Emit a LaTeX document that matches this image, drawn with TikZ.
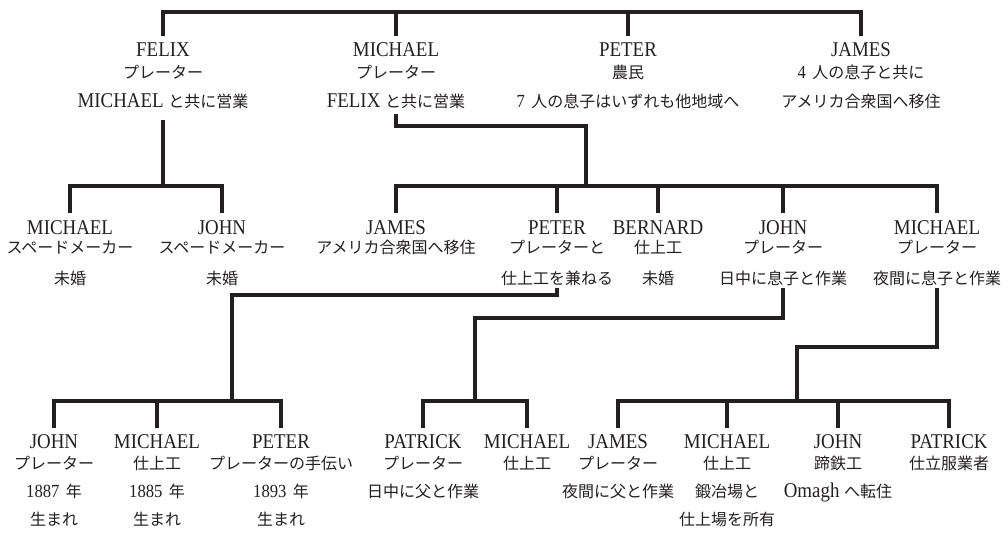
\documentclass[tikz,border=0pt]{standalone}
\usepackage{fontspec}
\setmainfont{Liberation Serif}[FakeStretch=0.9]
\newfontfamily\jpf{Noto Sans CJK JP}
\newcommand\jp[1]{{\jpf\fontsize{16}{16}\selectfont #1}}
\newcommand\dg[1]{{\fontsize{18.5}{18.5}\selectfont #1}\hspace{1.5pt}}
\definecolor{ink}{HTML}{231F20}
\tikzset{
  nm/.style={anchor=base, inner sep=0pt, text=ink, font=\fontsize{21}{21}\selectfont},
  tx/.style={anchor=base, inner sep=0pt, text=ink, font=\fontsize{21}{21}\selectfont},
  ln/.style={line width=3.1pt, draw=ink, line join=miter},
}
\begin{document}
\begin{tikzpicture}[x=1pt,y=-1pt]
\useasboundingbox (0,0) rectangle (1008,537);
% ---------- row 1 ----------
\node[nm] (a1) at (163,57) {FELIX};
\node[tx] (a1b) at (163,79) {\jp{プレーター}};
\node[tx] (a1c) at (163,108) {MICHAEL \jp{と共に営業}};
\node[nm] (a2) at (396,57) {MICHAEL};
\node[tx] (a2b) at (396,79) {\jp{プレーター}};
\node[tx] (a2c) at (396,108) {FELIX \jp{と共に営業}};
\node[nm] (a3) at (628,57) {PETER};
\node[tx] (a3b) at (628,79) {\jp{農民}};
\node[tx] (a3c) at (628,108) {\dg{7} \jp{人の息子はいずれも他地域へ}};
\node[nm] (a4) at (861,57) {JAMES};
\node[tx] (a4b) at (861,79) {\dg{4} \jp{人の息子と共に}};
\node[tx] (a4c) at (861,108) {\jp{アメリカ合衆国へ移住}};
% ---------- row 2 ----------
\node[nm] (b1) at (70,234) {MICHAEL};
\node[tx] (b1b) at (70,253) {\jp{スペードメーカー}};
\node[tx] (b1c) at (70,284) {\jp{未婚}};
\node[nm] (b2) at (222,234) {JOHN};
\node[tx] (b2b) at (222,253) {\jp{スペードメーカー}};
\node[tx] (b2c) at (222,284) {\jp{未婚}};
\node[nm] (b3) at (396,234) {JAMES};
\node[tx] (b3b) at (396,253) {\jp{アメリカ合衆国へ移住}};
\node[nm] (b4) at (557,234) {PETER};
\node[tx] (b4b) at (557,253) {\jp{プレーターと}};
\node[tx] (b4c) at (557,284) {\jp{仕上工を兼ねる}};
\node[nm] (b5) at (658,234) {BERNARD};
\node[tx] (b5b) at (658,253) {\jp{仕上工}};
\node[tx] (b5c) at (658,284) {\jp{未婚}};
\node[nm] (b6) at (783,234) {JOHN};
\node[tx] (b6b) at (783,253) {\jp{プレーター}};
\node[tx] (b6c) at (783,284) {\jp{日中に息子と作業}};
\node[nm] (b7) at (937,234) {MICHAEL};
\node[tx] (b7b) at (937,253) {\jp{プレーター}};
\node[tx] (b7c) at (937,284) {\jp{夜間に息子と作業}};
% ---------- row 3 ----------
\node[nm] (c1) at (54,448) {JOHN};
\node[tx] (c1b) at (54,469) {\jp{プレーター}};
\node[tx] (c1c) at (54,497) {\dg{1887} \jp{年}};
\node[tx] (c1d) at (54,525) {\jp{生まれ}};
\node[nm] (c2) at (157,448) {MICHAEL};
\node[tx] (c2b) at (157,469) {\jp{仕上工}};
\node[tx] (c2c) at (157,497) {\dg{1885} \jp{年}};
\node[tx] (c2d) at (157,525) {\jp{生まれ}};
\node[nm] (c3) at (281,448) {PETER};
\node[tx] (c3b) at (281,469) {\jp{プレーターの手伝い}};
\node[tx] (c3c) at (281,497) {\dg{1893} \jp{年}};
\node[tx] (c3d) at (281,525) {\jp{生まれ}};
\node[nm] (c4) at (423,448) {PATRICK};
\node[tx] (c4b) at (423,469) {\jp{プレーター}};
\node[tx] (c4c) at (423,497) {\jp{日中に父と作業}};
\node[nm] (c5) at (527,448) {MICHAEL};
\node[tx] (c5b) at (527,469) {\jp{仕上工}};
\node[nm] (c6) at (618,448) {JAMES};
\node[tx] (c6b) at (618,469) {\jp{プレーター}};
\node[tx] (c6c) at (618,497) {\jp{夜間に父と作業}};
\node[nm] (c7) at (727,448) {MICHAEL};
\node[tx] (c7b) at (727,469) {\jp{仕上工}};
\node[tx] (c7c) at (727,497) {\jp{鍛冶場と}};
\node[tx] (c7d) at (727,525) {\jp{仕上場を所有}};
\node[nm] (c8) at (838,448) {JOHN};
\node[tx] (c8b) at (838,469) {\jp{蹄鉄工}};
\node[tx] (c8c) at (838,497) {Omagh \jp{へ転住}};
\node[nm] (c9) at (949,448) {PATRICK};
\node[tx] (c9b) at (949,469) {\jp{仕立服業者}};
% ---------- connectors ----------
\coordinate (t) at (0,12);
\coordinate (u) at (0,186);
\coordinate (v) at (586,126);
\coordinate (r) at (0,401);
\coordinate (w1) at (232,295);
\coordinate (w2) at (475,318);
\coordinate (w3) at (797,347);
% generation 1
\draw[ln] ([yshift=21pt]a1.base) -- (a1.base |- t) -| ([yshift=21pt]a4.base);
\foreach \n in {a2,a3} \draw[ln] (\n.base |- t) -- ([yshift=21pt]\n.base);
% Felix's sons
\draw[ln] ([yshift=-12pt]a1c.base) -- (a1c.base |- u);
\draw[ln] ([yshift=21pt]b1.base) |- (b2.base |- u) -- ([yshift=21pt]b2.base);
% Michael's sons
\draw[ln] ([yshift=-6pt]a2c.base) |- (v) -- (v |- u);
\draw[ln] ([yshift=21pt]b3.base) |- (b7.base |- u) -- ([yshift=21pt]b7.base);
\foreach \n in {b4,b5,b6} \draw[ln] (\n.base |- u) -- ([yshift=21pt]\n.base);
% Peter's sons
\draw[ln] ([yshift=-4pt]b4c.base) |- (w1) -- (w1 |- r);
\draw[ln] ([yshift=20pt]c1.base) |- (c3.base |- r) -- ([yshift=20pt]c3.base);
\draw[ln] (c2.base |- r) -- ([yshift=20pt]c2.base);
% John's sons
\draw[ln] ([yshift=-4pt]b6c.base) |- (w2) -- (w2 |- r);
\draw[ln] ([yshift=20pt]c4.base) |- (c5.base |- r) -- ([yshift=20pt]c5.base);
% Michael's sons
\draw[ln] ([yshift=-4pt]b7c.base) |- (w3) -- (w3 |- r);
\draw[ln] ([yshift=20pt]c6.base) |- (c9.base |- r) -- ([yshift=20pt]c9.base);
\foreach \n in {c7,c8} \draw[ln] (\n.base |- r) -- ([yshift=20pt]\n.base);
\end{tikzpicture}
\end{document}
